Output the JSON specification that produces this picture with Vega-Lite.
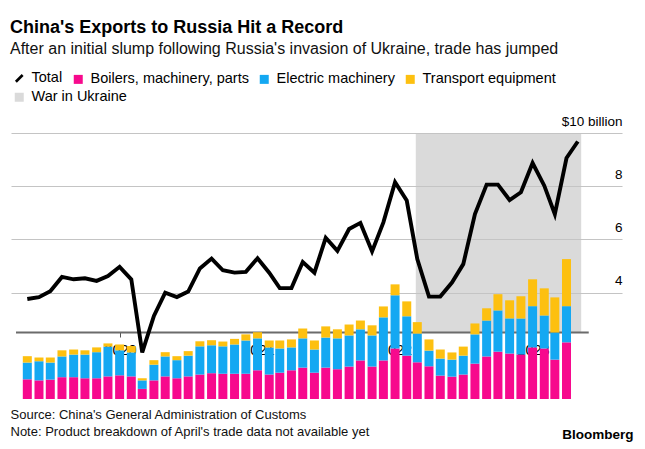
{
  "$schema": "https://vega.github.io/schema/vega-lite/v6.json",
  "width": 611,
  "height": 266,
  "autosize": "none",
  "padding": {"left": 11, "top": 133, "right": 23, "bottom": 50},
  "background": "white",
  "title": {
    "text": "China's Exports to Russia Hit a Record",
    "subtitle": "After an initial slump following Russia's invasion of Ukraine, trade has jumped",
    "anchor": "start",
    "frame": "group",
    "offset": 14,
    "dx": -1,
    "fontSize": 18,
    "fontWeight": "bold",
    "color": "#000",
    "subtitleFontSize": 16,
    "subtitleColor": "#111",
    "subtitlePadding": 4
  },
  "data": {
    "values": [
      {"date": "2019-04-30", "total": 3.76, "boilers": 0.74, "electric": 0.63, "transport": 0.24},
      {"date": "2019-05-31", "total": 3.83, "boilers": 0.70, "electric": 0.72, "transport": 0.14},
      {"date": "2019-06-30", "total": 4.05, "boilers": 0.73, "electric": 0.64, "transport": 0.19},
      {"date": "2019-07-31", "total": 4.59, "boilers": 0.82, "electric": 0.78, "transport": 0.23},
      {"date": "2019-08-31", "total": 4.50, "boilers": 0.82, "electric": 0.85, "transport": 0.19},
      {"date": "2019-09-30", "total": 4.54, "boilers": 0.78, "electric": 0.89, "transport": 0.16},
      {"date": "2019-10-31", "total": 4.44, "boilers": 0.78, "electric": 0.98, "transport": 0.18},
      {"date": "2019-11-30", "total": 4.62, "boilers": 0.85, "electric": 1.12, "transport": 0.12},
      {"date": "2019-12-31", "total": 4.97, "boilers": 0.89, "electric": 0.94, "transport": 0.22},
      {"date": "2020-01-31", "total": 4.50, "boilers": 0.85, "electric": 0.90, "transport": 0.24},
      {"date": "2020-02-29", "total": 1.75, "boilers": 0.38, "electric": 0.32, "transport": 0.08},
      {"date": "2020-03-31", "total": 3.12, "boilers": 0.70, "electric": 0.59, "transport": 0.17},
      {"date": "2020-04-30", "total": 4.00, "boilers": 0.85, "electric": 0.75, "transport": 0.16},
      {"date": "2020-05-31", "total": 3.83, "boilers": 0.78, "electric": 0.68, "transport": 0.15},
      {"date": "2020-06-30", "total": 4.04, "boilers": 0.85, "electric": 0.78, "transport": 0.17},
      {"date": "2020-07-31", "total": 4.91, "boilers": 0.92, "electric": 1.06, "transport": 0.19},
      {"date": "2020-08-31", "total": 5.28, "boilers": 0.97, "electric": 1.05, "transport": 0.19},
      {"date": "2020-09-30", "total": 4.84, "boilers": 0.95, "electric": 1.03, "transport": 0.18},
      {"date": "2020-10-31", "total": 4.75, "boilers": 0.95, "electric": 1.10, "transport": 0.21},
      {"date": "2020-11-30", "total": 4.78, "boilers": 0.95, "electric": 1.25, "transport": 0.23},
      {"date": "2020-12-31", "total": 5.29, "boilers": 1.08, "electric": 1.20, "transport": 0.23},
      {"date": "2021-01-31", "total": 4.75, "boilers": 0.92, "electric": 1.02, "transport": 0.26},
      {"date": "2021-02-28", "total": 4.17, "boilers": 0.99, "electric": 0.91, "transport": 0.30},
      {"date": "2021-03-31", "total": 4.17, "boilers": 1.08, "electric": 0.86, "transport": 0.30},
      {"date": "2021-04-30", "total": 5.15, "boilers": 1.18, "electric": 1.10, "transport": 0.37},
      {"date": "2021-05-31", "total": 4.75, "boilers": 0.99, "electric": 0.87, "transport": 0.34},
      {"date": "2021-06-30", "total": 6.06, "boilers": 1.18, "electric": 1.13, "transport": 0.42},
      {"date": "2021-07-31", "total": 5.57, "boilers": 1.12, "electric": 1.16, "transport": 0.34},
      {"date": "2021-08-31", "total": 6.39, "boilers": 1.22, "electric": 1.17, "transport": 0.41},
      {"date": "2021-09-30", "total": 6.62, "boilers": 1.45, "electric": 1.17, "transport": 0.33},
      {"date": "2021-10-31", "total": 5.55, "boilers": 1.22, "electric": 1.17, "transport": 0.38},
      {"date": "2021-11-30", "total": 6.64, "boilers": 1.45, "electric": 1.62, "transport": 0.41},
      {"date": "2021-12-31", "total": 8.15, "boilers": 1.90, "electric": 2.00, "transport": 0.41},
      {"date": "2022-01-31", "total": 7.46, "boilers": 1.63, "electric": 1.48, "transport": 0.56},
      {"date": "2022-02-28", "total": 5.26, "boilers": 1.38, "electric": 1.08, "transport": 0.43},
      {"date": "2022-03-31", "total": 3.85, "boilers": 1.23, "electric": 0.59, "transport": 0.42},
      {"date": "2022-04-30", "total": 3.85, "boilers": 0.88, "electric": 0.64, "transport": 0.34},
      {"date": "2022-05-31", "total": 4.38, "boilers": 0.84, "electric": 0.64, "transport": 0.27},
      {"date": "2022-06-30", "total": 5.07, "boilers": 0.92, "electric": 0.71, "transport": 0.34},
      {"date": "2022-07-31", "total": 6.95, "boilers": 1.33, "electric": 1.10, "transport": 0.41},
      {"date": "2022-08-31", "total": 8.06, "boilers": 1.60, "electric": 1.35, "transport": 0.46},
      {"date": "2022-09-30", "total": 8.06, "boilers": 1.78, "electric": 1.55, "transport": 0.61},
      {"date": "2022-10-31", "total": 7.48, "boilers": 1.71, "electric": 1.32, "transport": 0.68},
      {"date": "2022-11-30", "total": 7.77, "boilers": 1.67, "electric": 1.36, "transport": 0.83},
      {"date": "2022-12-31", "total": 8.87, "boilers": 1.94, "electric": 1.55, "transport": 1.01},
      {"date": "2023-01-31", "total": 8.02, "boilers": 1.90, "electric": 1.24, "transport": 1.02},
      {"date": "2023-02-28", "total": 6.95, "boilers": 1.48, "electric": 1.02, "transport": 1.32},
      {"date": "2023-03-31", "total": 9.06, "boilers": 2.13, "electric": 1.36, "transport": 1.77},
      {"date": "2023-04-30", "total": 9.68}
    ]
  },
  "layer": [
    {
      "data": {"values": [{"start": "2022-02-24", "end": "2023-05-09"}]},
      "mark": {"type": "rect", "opacity": 0.62},
      "encoding": {
        "x": {"field": "start", "type": "temporal", "title": ["Source: China's General Administration of Customs", "Note: Product breakdown of April's trade data not available yet"], "scale": {"domain": [{"year": 2019, "month": 3, "date": 31}, {"year": 2023, "month": 8, "date": 12}]}},
        "x2": {"field": "end"},
        "y": {"datum": 2.5, "type": "quantitative", "title": "Bloomberg", "scale": {"domain": [0, 10], "nice": false}},
        "y2": {"datum": 10},
        "fill": {
          "datum": "War in Ukraine",
          "scale": {"domain": ["War in Ukraine"], "range": ["#c4c4c4"]},
          "legend": {
            "orient": "none",
            "legendX": 1,
            "legendY": -43,
            "padding": 0,
            "title": null,
            "symbolSize": 81,
            "symbolType": "square",
            "labelFontSize": 14.5,
            "labelOffset": 5,
            "labelColor": "#000",
            "labelLimit": 0,
            "encode": {
              "symbols": {
                "update": {
                  "fill": {"value": "#dadada"},
                  "opacity": {"value": 1},
                  "strokeWidth": {"value": 0}
                }
              }
            }
          }
        }
      }
    },
    {
      "data": {"values": [{"from": "2019-03-31", "to": "2023-05-29"}]},
      "mark": {"type": "rule", "color": "#6b6b6b", "strokeWidth": 2},
      "encoding": {
        "x": {"field": "from", "type": "temporal", "title": ["Source: China's General Administration of Customs", "Note: Product breakdown of April's trade data not available yet"]},
        "x2": {"field": "to"},
        "y": {"datum": 2.5, "type": "quantitative", "title": "Bloomberg"}
      }
    },
    {
      "transform": [
        {"fold": ["boilers", "electric", "transport"], "as": ["category", "share"]},
        {"filter": "isValid(datum.share)"}
      ],
      "mark": {"type": "bar", "width": 9},
      "encoding": {
        "x": {
          "field": "date",
          "type": "temporal",
          "title": ["Source: China's General Administration of Customs", "Note: Product breakdown of April's trade data not available yet"],
          "axis": {
            "orient": "bottom",
            "offset": -67,
            "domain": false,
            "grid": false,
            "tickSize": 5,
            "tickColor": "#555",
            "labelFontSize": 14.5,
            "labelColor": "#000",
            "labelPadding": 6,
            "format": "%Y",
            "values": [
              {"year": 2020, "month": 1, "date": 1},
              {"year": 2021, "month": 1, "date": 1},
              {"year": 2022, "month": 1, "date": 1},
              {"year": 2023, "month": 1, "date": 1}
            ],
            "titleX": -1,
            "titleY": 86,
            "titleAnchor": null,
            "titleAlign": "left",
            "titleBaseline": "alphabetic",
            "titleFontSize": 13,
            "titleFontWeight": "normal",
            "titleLineHeight": 17,
            "titleColor": "#111"
          }
        },
        "y": {
          "field": "share",
          "type": "quantitative",
          "stack": "zero",
          "title": "Bloomberg",
          "axis": {
            "orient": "right",
            "values": [4, 6, 8, 10],
            "domain": false,
            "ticks": false,
            "tickSize": 0,
            "grid": true,
            "gridColor": "#c4c4c4",
            "gridWidth": 1.2,
            "labelAlign": "right",
            "labelPadding": 0,
            "labelBaseline": "alphabetic",
            "labelOffset": -8,
            "labelFontSize": 13.5,
            "labelColor": "#000",
            "labelExpr": "datum.value == 10 ? '$10 billion' : datum.label",
            "titleAngle": 0,
            "titleX": 11,
            "titleY": 305,
            "titleAlign": "right",
            "titleBaseline": "alphabetic",
            "titleFontSize": 13.5,
            "titleFontWeight": "bold",
            "titleColor": "#000"
          }
        },
        "order": {"field": "category", "sort": "ascending"},
        "color": {
          "field": "category",
          "type": "nominal",
          "scale": {
            "domain": ["total", "boilers", "electric", "transport"],
            "range": ["#000000", "#f7098d", "#14a8f2", "#fdc010"]
          },
          "legend": {
            "orient": "none",
            "legendX": 1,
            "legendY": -62,
            "direction": "horizontal",
            "columnPadding": 8,
            "padding": 0,
            "title": null,
            "symbolSize": 81,
            "symbolType": "square",
            "labelFontSize": 14.5,
            "labelOffset": 5,
            "labelColor": "#000",
            "labelLimit": 0,
            "labelExpr": "datum.value == 'total' ? 'Total' : datum.value == 'boilers' ? 'Boilers, machinery, parts' : datum.value == 'electric' ? 'Electric machinery' : 'Transport equipment'",
            "encode": {
              "symbols": {
                "update": {
                  "shape": {"signal": "datum.value == 'total' ? 'M-0.75,0.75L0.75,-0.75' : 'square'"},
                  "fill": {"signal": "datum.value == 'total' ? 'transparent' : scale('color', datum.value)"},
                  "stroke": {"signal": "datum.value == 'total' ? '#000' : 'transparent'"},
                  "strokeWidth": {"signal": "datum.value == 'total' ? 2.6 : 0"},
                  "opacity": {"value": 1}
                }
              }
            }
          }
        }
      }
    },
    {
      "mark": {"type": "line", "strokeWidth": 3.9, "strokeJoin": "miter"},
      "encoding": {
        "x": {"field": "date", "type": "temporal", "title": ["Source: China's General Administration of Customs", "Note: Product breakdown of April's trade data not available yet"]},
        "y": {"field": "total", "type": "quantitative", "title": "Bloomberg"},
        "color": {"datum": "total"}
      }
    }
  ],
  "config": {
    "font": "Liberation Sans",
    "view": {"stroke": null}
  }
}
